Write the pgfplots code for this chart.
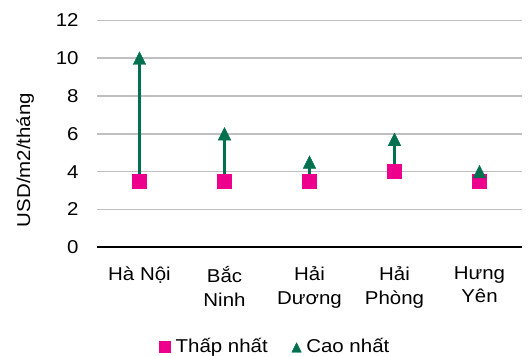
\documentclass[border=0pt]{standalone}
\usepackage{fontspec}
\setmainfont{Liberation Sans}[FakeStretch=1.1]
\usepackage{pgfplots}
\pgfplotsset{compat=1.18}
\definecolor{pinkc}{HTML}{EC008C}
\definecolor{greenc}{HTML}{00704F}
\definecolor{gridc}{HTML}{BFBFBF}
\newcommand{\chartfont}{\fontsize{18.6}{23.5}\selectfont}
\begin{document}
\chartfont
\begin{tikzpicture}
\begin{axis}[
  name=ax, at={(0,0)}, anchor=south west,
  scale only axis, width=425pt, height=226.8pt,
  xmin=-0.5, xmax=4.5, ymin=0, ymax=12,
  ytick={0,2,...,12},
  xtick={0,...,4},
  xticklabels={Hà Nội,{Bắc\\Ninh},{Hải\\Dương},{Hải\\Phòng},{Hưng\\Yên}},
  xticklabel style={align=center, anchor=north, yshift=-13pt, font=\chartfont},
  yticklabel style={anchor=east, xshift=-12pt, font=\chartfont},
  /pgf/number format/assume math mode=true,
  major tick length=0pt,
  axis x line*=bottom, axis y line*=left,
  x axis line style={black, line width=1.6pt, -},
  y axis line style={draw=none},
  ymajorgrids, grid style={gridc, line width=1.6pt},
  ylabel={USD/m2/tháng},
  ylabel style={at={(axis description cs:-0.169,0.385)}, anchor=center, font=\chartfont},
  clip=false,
  legend columns=2,
  legend style={draw=none, fill=none, at={(0.42,-0.44)}, anchor=center, font=\chartfont,
    /tikz/every odd column/.append style={column sep=3pt},
    /tikz/every even column/.append style={column sep=22pt}, inner sep=0pt},
  legend image code/.code={\draw[#1, mark size=5.5pt] plot coordinates {(0cm,0cm)};},
]
\addplot[greenc, line width=2.2pt, forget plot] coordinates {(0,3.5) (0,10)};
\addplot[greenc, line width=2.2pt, forget plot] coordinates {(1,3.5) (1,6)};
\addplot[greenc, line width=2.2pt, forget plot] coordinates {(2,3.5) (2,4.5)};
\addplot[greenc, line width=2.2pt, forget plot] coordinates {(3,4) (3,5.7)};
\addplot[greenc, line width=2.2pt, forget plot] coordinates {(4,3.5) (4,4)};
\addplot[only marks, mark=square*, mark size=7pt, color=pinkc, mark options={draw=pinkc, fill=pinkc}]
  coordinates {(0,3.5) (1,3.5) (2,3.5) (3,4) (4,3.5)};
\addlegendentry{Thấp nhất}
\addplot[only marks, mark=triangle*, mark size=7.3pt, color=greenc, mark options={draw=greenc, fill=greenc, yshift=-2pt, yscale=1.15}]
  coordinates {(0,10) (1,6) (2,4.5) (3,5.7) (4,4)};
\addlegendentry{Cao nhất}
\end{axis}
\pgfresetboundingbox
\path[use as bounding box] (-97pt,-108.7pt) rectangle (431pt,247.3pt);
\end{tikzpicture}
\end{document}
